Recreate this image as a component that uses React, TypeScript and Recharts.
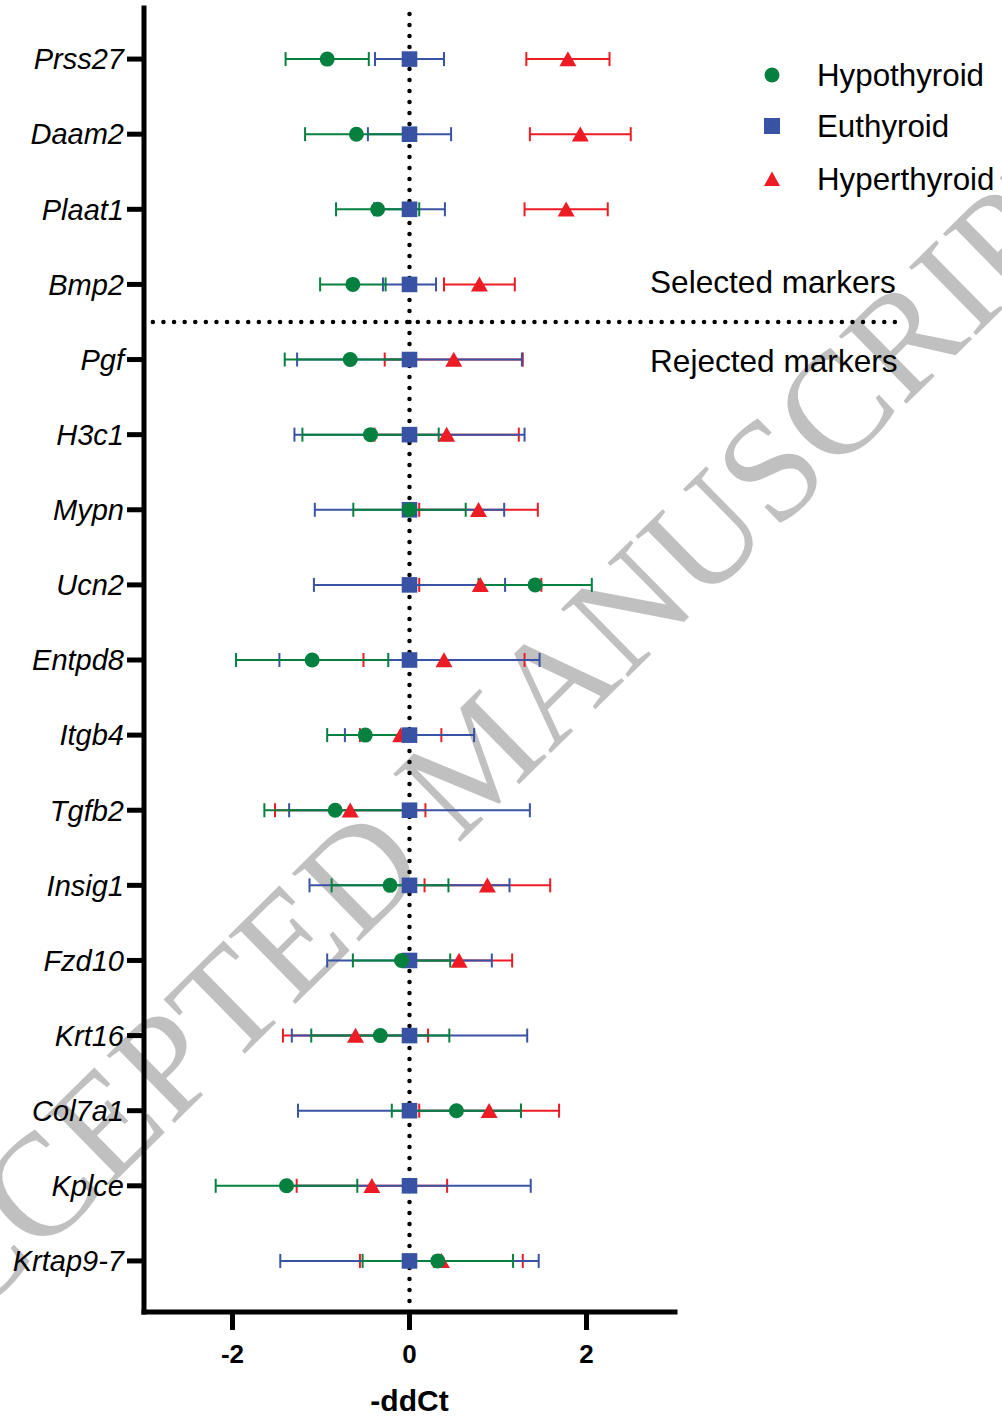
import React from 'react';
import { ScatterChart, Scatter, XAxis, YAxis, ErrorBar, ReferenceLine } from 'recharts';

const genes = ['Prss27', 'Daam2', 'Plaat1', 'Bmp2', 'Pgf', 'H3c1', 'Mypn', 'Ucn2', 'Entpd8', 'Itgb4', 'Tgfb2', 'Insig1', 'Fzd10', 'Krt16', 'Col7a1', 'Kplce', 'Krtap9-7'];
const geneIndex = [0, 1, 2, 3, 4, 5, 6, 7, 8, 9, 10, 11, 12, 13, 14, 15, 16];

const hypoMean = [-0.93, -0.6, -0.36, -0.64, -0.67, -0.44, 0.0, 1.42, -1.1, -0.5, -0.84, -0.22, -0.09, -0.33, 0.53, -1.39, 0.32];
const hypoErr = [0.47, 0.58, 0.47, 0.37, 0.74, 0.77, 0.635, 0.64, 0.86, 0.43, 0.8, 0.66, 0.55, 0.78, 0.73, 0.8, 0.85];

const euMean = [0, 0, 0, 0, 0, 0, 0, 0, 0, 0, 0, 0, 0, 0, 0, 0, 0];
const euErr = [0.39, 0.47, 0.4, 0.3, 1.27, 1.3, 1.07, 1.08, 1.47, 0.73, 1.36, 1.13, 0.93, 1.33, 1.26, 1.37, 1.46];

const hyperMean = [1.79, 1.93, 1.77, 0.79, 0.5, 0.42, 0.78, 0.8, 0.39, -0.1, -0.67, 0.88, 0.56, -0.61, 0.9, -0.425, 0.36];
const hyperErr = [0.47, 0.57, 0.47, 0.4, 0.78, 0.815, 0.67, 0.69, 0.91, 0.46, 0.85, 0.71, 0.6, 0.82, 0.79, 0.85, 0.92];

const xTicks = [-2, 0, 2];
const xDomain = [-3, 3];
const yDomain = [-0.68, 16.68];
const dividerY = 3.5;
const dividerX = [-2.9, 5.53];

const GREEN = '#05803f';
const BLUE = '#3853a4';
const RED = '#ed1c24';

const FONT = "'Liberation Sans', Arial, Helvetica, sans-serif";

const build = (means: number[], errs: number[]) =>
  geneIndex.map((i) => ({ idx: i, gene: genes[i], x: means[i], err: errs[i] }));

const hypoData = build(hypoMean, hypoErr);
const euData = build(euMean, euErr);
const hyperData = build(hyperMean, hyperErr);

const Circle = (p: any) => <circle cx={p.cx} cy={p.cy} r={7.5} fill={GREEN} />;
const Square = (p: any) => <rect x={p.cx - 7.8} y={p.cy - 7.8} width={15.6} height={15.6} fill={BLUE} />;
const Tri = (p: any) => (
  <polygon
    points={`${p.cx},${p.cy - 7.8} ${p.cx + 8.5},${p.cy + 7.2} ${p.cx - 8.5},${p.cy + 7.2}`}
    fill={RED}
  />
);

const legendItems = [
  { name: 'Hypothyroid', color: GREEN, kind: 'circle', y: 75 },
  { name: 'Euthyroid', color: BLUE, kind: 'square', y: 126 },
  { name: 'Hyperthyroid', color: RED, kind: 'triangle', y: 179 },
];

export default function App() {
  return (
    <div style={{ position: 'absolute', left: 0, top: 0, width: 1002, height: 1418, overflow: 'hidden', background: '#fff' }}>
      <svg width={1002} height={1418} style={{ position: 'absolute', left: 0, top: 0 }}>
        <text
          x={477}
          y={758}
          transform="rotate(-44.5 477 758)"
          textAnchor="middle"
          dy="0.33em"
          fontFamily="'Liberation Serif', 'DejaVu Serif', serif"
          fontSize={146}
          fill="#c0c0c0"
        >
          ACCEPTED MANUSCRIPT
        </text>
      </svg>
      <div style={{ position: 'absolute', left: 0, top: 0 }}>
        <ScatterChart
          width={1002}
          height={1418}
          margin={{ top: 8, right: 327, bottom: 0, left: 0 }}
          style={{ fontFamily: FONT }}
        >
          <XAxis
            type="number"
            dataKey="x"
            domain={xDomain}
            ticks={xTicks}
            height={106}
            axisLine={{ stroke: '#000', strokeWidth: 5, strokeLinecap: 'square' }}
            tickLine={{ stroke: '#000', strokeWidth: 5 }}
            tickSize={18}
            tickMargin={15}
            tick={{ fontSize: 26, fontWeight: 'bold', fill: '#000', fontFamily: FONT }}
            label={{ value: '-ddCt', position: 'insideBottom', offset: 7, style: { fontSize: 30, fontWeight: 'bold', fill: '#000', fontFamily: FONT } }}
          />
          <YAxis
            type="number"
            dataKey="idx"
            domain={yDomain}
            reversed
            ticks={geneIndex}
            interval={0}
            width={144}
            tickFormatter={(v: number) => genes[v] ?? ''}
            axisLine={{ stroke: '#000', strokeWidth: 5, strokeLinecap: 'square' }}
            tickLine={{ stroke: '#000', strokeWidth: 5 }}
            tickSize={17}
            tickMargin={3}
            tick={{ fontSize: 29, fontStyle: 'italic', fill: '#000', fontFamily: FONT }}
          />
          <ReferenceLine x={0} stroke="#000" strokeWidth={4.5} strokeDasharray="0 11" strokeLinecap="round" />
          <ReferenceLine
            segment={[{ x: dividerX[0], y: dividerY }, { x: dividerX[1], y: dividerY }]}
            ifOverflow="visible"
            stroke="#000"
            strokeWidth={4.5}
            strokeDasharray="0 10.6"
            strokeLinecap="round"
          />
          <Scatter name="Hyperthyroid" data={hyperData} shape={Tri} isAnimationActive={false}>
            <ErrorBar dataKey="err" direction="x" width={7} stroke={RED} strokeWidth={2} />
          </Scatter>
          <Scatter name="Euthyroid" data={euData} shape={Square} isAnimationActive={false}>
            <ErrorBar dataKey="err" direction="x" width={7} stroke={BLUE} strokeWidth={2} />
          </Scatter>
          <Scatter name="Hypothyroid" data={hypoData} shape={Circle} isAnimationActive={false}>
            <ErrorBar dataKey="err" direction="x" width={7} stroke={GREEN} strokeWidth={2} />
          </Scatter>
        </ScatterChart>
      </div>
      <svg width={1002} height={1418} style={{ position: 'absolute', left: 0, top: 0, pointerEvents: 'none' }}>
        {legendItems.map((it) => (
          <g key={it.name}>
            {it.kind === 'circle' && <circle cx={772} cy={it.y} r={7.5} fill={it.color} />}
            {it.kind === 'square' && <rect x={764} y={it.y - 8} width={16} height={16} fill={it.color} />}
            {it.kind === 'triangle' && (
              <polygon points={`772,${it.y - 7.5} 780,${it.y + 7} 764,${it.y + 7}`} fill={it.color} />
            )}
            <text x={817} y={it.y + 10.5} fontFamily={FONT} fontSize={31.3} fill="#000">
              {it.name}
            </text>
          </g>
        ))}
        <text x={650} y={293} fontFamily={FONT} fontSize={31.6} fill="#000">
          Selected markers
        </text>
        <text x={650} y={372} fontFamily={FONT} fontSize={31.6} fill="#000">
          Rejected markers
        </text>
      </svg>
    </div>
  );
}
